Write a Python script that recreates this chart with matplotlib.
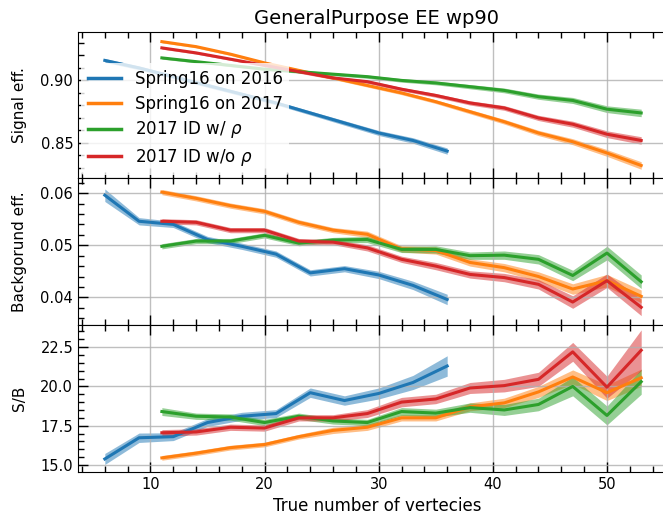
import matplotlib
matplotlib.use('Agg')
import matplotlib.pyplot as plt
import numpy as np
from matplotlib.ticker import MultipleLocator, FormatStrFormatter

# x positions (true number of vertices)
nvtx_2016 = [6, 9, 12, 15, 18, 21, 24, 27, 30, 33, 36]
nvtx_2017 = [11, 14, 17, 20, 23, 26, 29, 32, 35, 38, 41, 44, 47, 50, 53]

labels = ["Spring16 on 2016", "Spring16 on 2017", "2017 ID w/ $\\rho$", "2017 ID w/o $\\rho$"]

# signal efficiency
sig_blue = [0.916, 0.910, 0.903, 0.896, 0.889, 0.882, 0.874, 0.866, 0.858, 0.852, 0.8435]
sig_blue_err = [0.0015, 0.0015, 0.0015, 0.0015, 0.0015, 0.0015, 0.0016, 0.0018, 0.002, 0.0022, 0.0025]
sig_orange = [0.931, 0.927, 0.921, 0.914, 0.908, 0.902, 0.896, 0.890, 0.883, 0.875, 0.867, 0.858, 0.851, 0.842, 0.832]
sig_orange_err = [0.001, 0.001, 0.001, 0.001, 0.0012, 0.0012, 0.0013, 0.0014, 0.0015, 0.0017, 0.0019, 0.0021, 0.0024, 0.0027, 0.003]
sig_green = [0.918, 0.915, 0.912, 0.909, 0.907, 0.905, 0.903, 0.900, 0.898, 0.895, 0.892, 0.887, 0.884, 0.877, 0.874]
sig_green_err = [0.001, 0.001, 0.001, 0.001, 0.0012, 0.0012, 0.0013, 0.0014, 0.0015, 0.0017, 0.0019, 0.0021, 0.0024, 0.0027, 0.003]
sig_red = [0.926, 0.922, 0.917, 0.912, 0.907, 0.902, 0.899, 0.893, 0.888, 0.882, 0.878, 0.870, 0.865, 0.857, 0.852]
sig_red_err = [0.001, 0.001, 0.001, 0.001, 0.0012, 0.0012, 0.0013, 0.0014, 0.0015, 0.0017, 0.0019, 0.0021, 0.0024, 0.0027, 0.003]

# background efficiency
bkg_blue = [0.0596, 0.0546, 0.0540, 0.0511, 0.0498, 0.0483, 0.0447, 0.0455, 0.0443, 0.0423, 0.0396]
bkg_blue_err = [0.0012, 0.0007, 0.0006, 0.0006, 0.0006, 0.0006, 0.0006, 0.0006, 0.0007, 0.0008, 0.0010]
bkg_orange = [0.0602, 0.0590, 0.0576, 0.0565, 0.0544, 0.0529, 0.0521, 0.0493, 0.0490, 0.0467, 0.0457, 0.0440, 0.0416, 0.0432, 0.0402]
bkg_orange_err = [0.0005, 0.0005, 0.0005, 0.0005, 0.0005, 0.0005, 0.0006, 0.0006, 0.0007, 0.0007, 0.0008, 0.0009, 0.0010, 0.0012, 0.0012]
bkg_green = [0.0498, 0.0508, 0.0508, 0.0519, 0.0504, 0.0510, 0.0511, 0.0492, 0.0492, 0.0480, 0.0481, 0.0473, 0.0442, 0.0485, 0.0430]
bkg_green_err = [0.0005, 0.0005, 0.0005, 0.0005, 0.0005, 0.0005, 0.0006, 0.0006, 0.0007, 0.0007, 0.0008, 0.0009, 0.0010, 0.0013, 0.0013]
bkg_red = [0.0546, 0.0544, 0.0529, 0.0529, 0.0508, 0.0506, 0.0495, 0.0473, 0.0460, 0.0444, 0.0438, 0.0425, 0.0391, 0.0432, 0.0381]
bkg_red_err = [0.0005, 0.0005, 0.0005, 0.0005, 0.0005, 0.0005, 0.0006, 0.0006, 0.0007, 0.0007, 0.0008, 0.0009, 0.0012, 0.0013, 0.0016]

# signal over background
sb_blue = [15.38, 16.73, 16.8, 17.7, 18.1, 18.27, 19.6, 19.1, 19.55, 20.25, 21.3]
sb_blue_err = [0.35, 0.3, 0.25, 0.25, 0.25, 0.25, 0.3, 0.3, 0.35, 0.45, 0.65]
sb_orange = [15.45, 15.75, 16.1, 16.3, 16.8, 17.2, 17.4, 18.0, 18.0, 18.7, 18.95, 19.65, 20.6, 19.6, 20.55]
sb_orange_err = [0.15, 0.15, 0.15, 0.15, 0.15, 0.2, 0.2, 0.2, 0.2, 0.25, 0.3, 0.35, 0.45, 0.5, 0.55]
sb_green = [18.4, 18.1, 18.05, 17.7, 18.1, 17.8, 17.7, 18.4, 18.3, 18.65, 18.5, 18.85, 20.0, 18.15, 20.3]
sb_green_err = [0.25, 0.2, 0.2, 0.2, 0.2, 0.2, 0.2, 0.25, 0.25, 0.3, 0.35, 0.4, 0.6, 0.6, 0.8]
sb_red = [17.05, 17.1, 17.4, 17.35, 18.0, 18.0, 18.27, 19.0, 19.2, 19.9, 20.05, 20.45, 22.2, 19.95, 22.3]
sb_red_err = [0.2, 0.2, 0.2, 0.2, 0.2, 0.2, 0.25, 0.3, 0.3, 0.35, 0.4, 0.45, 0.6, 0.7, 1.3]

colors = ['C0', 'C1', 'C2', 'C3']

panels = [
    ("Signal eff.", [(sig_blue, sig_blue_err), (sig_orange, sig_orange_err), (sig_green, sig_green_err), (sig_red, sig_red_err)],
     (0.822, 0.9387), 0.05, 0.01, '%.2f'),
    ("Backgorund eff.", [(bkg_blue, bkg_blue_err), (bkg_orange, bkg_orange_err), (bkg_green, bkg_green_err), (bkg_red, bkg_red_err)],
     (0.0347, 0.0629), 0.01, 0.002, '%.2f'),
    ("S/B", [(sb_blue, sb_blue_err), (sb_orange, sb_orange_err), (sb_green, sb_green_err), (sb_red, sb_red_err)],
     (14.55, 23.91), 2.5, 0.5, '%.1f'),
]

fig = plt.figure(figsize=(6.63, 5.18), dpi=100)
W, H = 663.0, 518.0
# the right edge of the axes sits just past the figure edge, as in the original
left, right = 78 / W, 676 / W
edges = [32, 178, 325, 472]

axes = []
for i, (ylabel, series, ylim, major, minor, fmt) in enumerate(panels):
    top, bottom = edges[i], edges[i + 1]
    ax = fig.add_axes([left, 1 - bottom / H, right - left, (bottom - top) / H])
    axes.append(ax)
    for j, (vals, errs) in enumerate(series):
        x = np.array(nvtx_2016 if j == 0 else nvtx_2017)
        v = np.array(vals)
        e = np.array(errs)
        ax.fill_between(x, v - e, v + e, color=colors[j], alpha=0.5, linewidth=0)
        ax.plot(x, v, color=colors[j], linewidth=2.2, label=labels[j])
    ax.set_xlim(3.65, 56.05)
    ax.set_ylim(*ylim)
    ax.set_ylabel(ylabel, fontsize=11)
    ax.yaxis.set_label_coords(-0.085, 0.5)
    ax.xaxis.set_major_locator(MultipleLocator(10))
    ax.xaxis.set_minor_locator(MultipleLocator(2))
    ax.yaxis.set_major_locator(MultipleLocator(major))
    ax.yaxis.set_minor_locator(MultipleLocator(minor))
    ax.yaxis.set_major_formatter(FormatStrFormatter(fmt))
    ax.grid(True, which='major', color='#b0b0b0', linewidth=1.0, alpha=0.8)
    ax.tick_params(which='both', direction='in', top=True, right=True, labelsize=10.5)
    ax.tick_params(which='major', length=7, width=1)
    ax.tick_params(which='minor', length=4, width=1)
    if i < 2:
        ax.tick_params(labelbottom=False)

leg = axes[0].legend(loc='lower left', fontsize=12, frameon=True, framealpha=0.8,
                     edgecolor='none', handlelength=2.0, borderaxespad=0.2, labelspacing=0.4)
for line in leg.get_lines():
    line.set_linewidth(2.5)

axes[0].set_title("GeneralPurpose EE wp90", fontsize=14)
axes[2].set_xlabel("True number of vertecies", fontsize=12)

fig.savefig("out.png", dpi=100)
plt.close(fig)
